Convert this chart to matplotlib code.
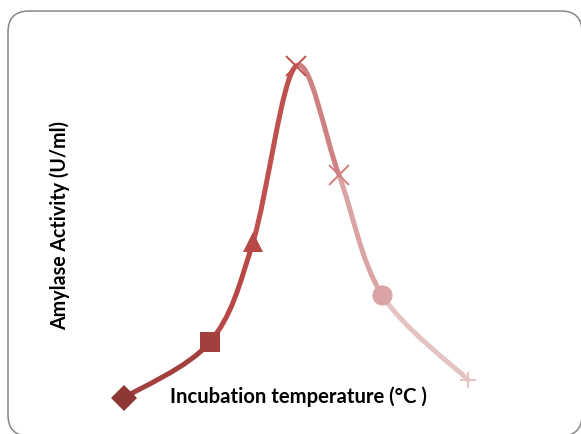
import matplotlib
matplotlib.use("Agg")
import matplotlib.pyplot as plt
from matplotlib.path import Path
from matplotlib.patches import PathPatch, FancyBboxPatch
from matplotlib.transforms import Affine2D
import numpy as np

# Data
temperatures = [20, 30, 35, 40, 45, 50, 60]
activity = [0.52, 1.42, 3.03, 5.87, 4.11, 2.18, 0.81]
markers = ["D", "s", "^", "x", "x", "o", "+"]
colors = ["#8E3836", "#A2403E", "#B84845", "#C0504D", "#CF8080", "#DBA4A4", "#E6C3C3"]
x_label = "Incubation temperature (°C )"
y_label = "Amylase Activity (U/ml)"

W, H = 581, 434
fig = plt.figure(figsize=(W / 100, H / 100), dpi=100)
ax = fig.add_axes([0, 0, 1, 1])
ax.set_xlim(5.581, 73.14)
ax.set_ylim(-0.0645, 6.935)
ax.axis("off")

# rounded frame in pixel coordinates (y up)
pix = Affine2D().scale(1 / W, 1 / H) + fig.transFigure
frame = FancyBboxPatch((8, H - 436), 574, 425, boxstyle="round,pad=0,rounding_size=21",
                       transform=pix, facecolor="none", edgecolor="#878787", linewidth=1.1)
fig.patches.append(frame)

# smooth (Catmull-Rom bezier) line segments, each coloured like its end point
pts = np.column_stack([temperatures, activity]).astype(float)
n = len(pts)
for i in range(n - 1):
    p0 = pts[max(i - 1, 0)]
    p1 = pts[i]
    p2 = pts[i + 1]
    p3 = pts[min(i + 2, n - 1)]
    c1 = p1 + (p2 - p0) / 6.0
    c2 = p2 - (p3 - p1) / 6.0
    path = Path([p1, c1, c2, p2], [Path.MOVETO, Path.CURVE4, Path.CURVE4, Path.CURVE4])
    ax.add_patch(PathPatch(path, facecolor="none", edgecolor=colors[i + 1], linewidth=3.6,
                           capstyle="round", zorder=2))

sizes = {"D": 13, "s": 14.5, "^": 14, "x": 14.5, "o": 14.5, "+": 12}
for xv, yv, m, c in zip(temperatures, activity, markers, colors):
    ax.plot([xv], [yv], marker=m, color=c, markersize=sizes[m],
            markeredgewidth=1.4 if m in "x+" else 0, linestyle="none", zorder=3)

fig.text(60 / W, 1 - 225 / H, y_label, rotation=90, ha="center", va="center",
         fontsize=14.1, fontweight="bold", family="Lato")
fig.text(298 / W, 1 - 397 / H, x_label, ha="center", va="center",
         fontsize=14.6, fontweight="bold", family="Lato")

fig.savefig("out.png", dpi=100)
